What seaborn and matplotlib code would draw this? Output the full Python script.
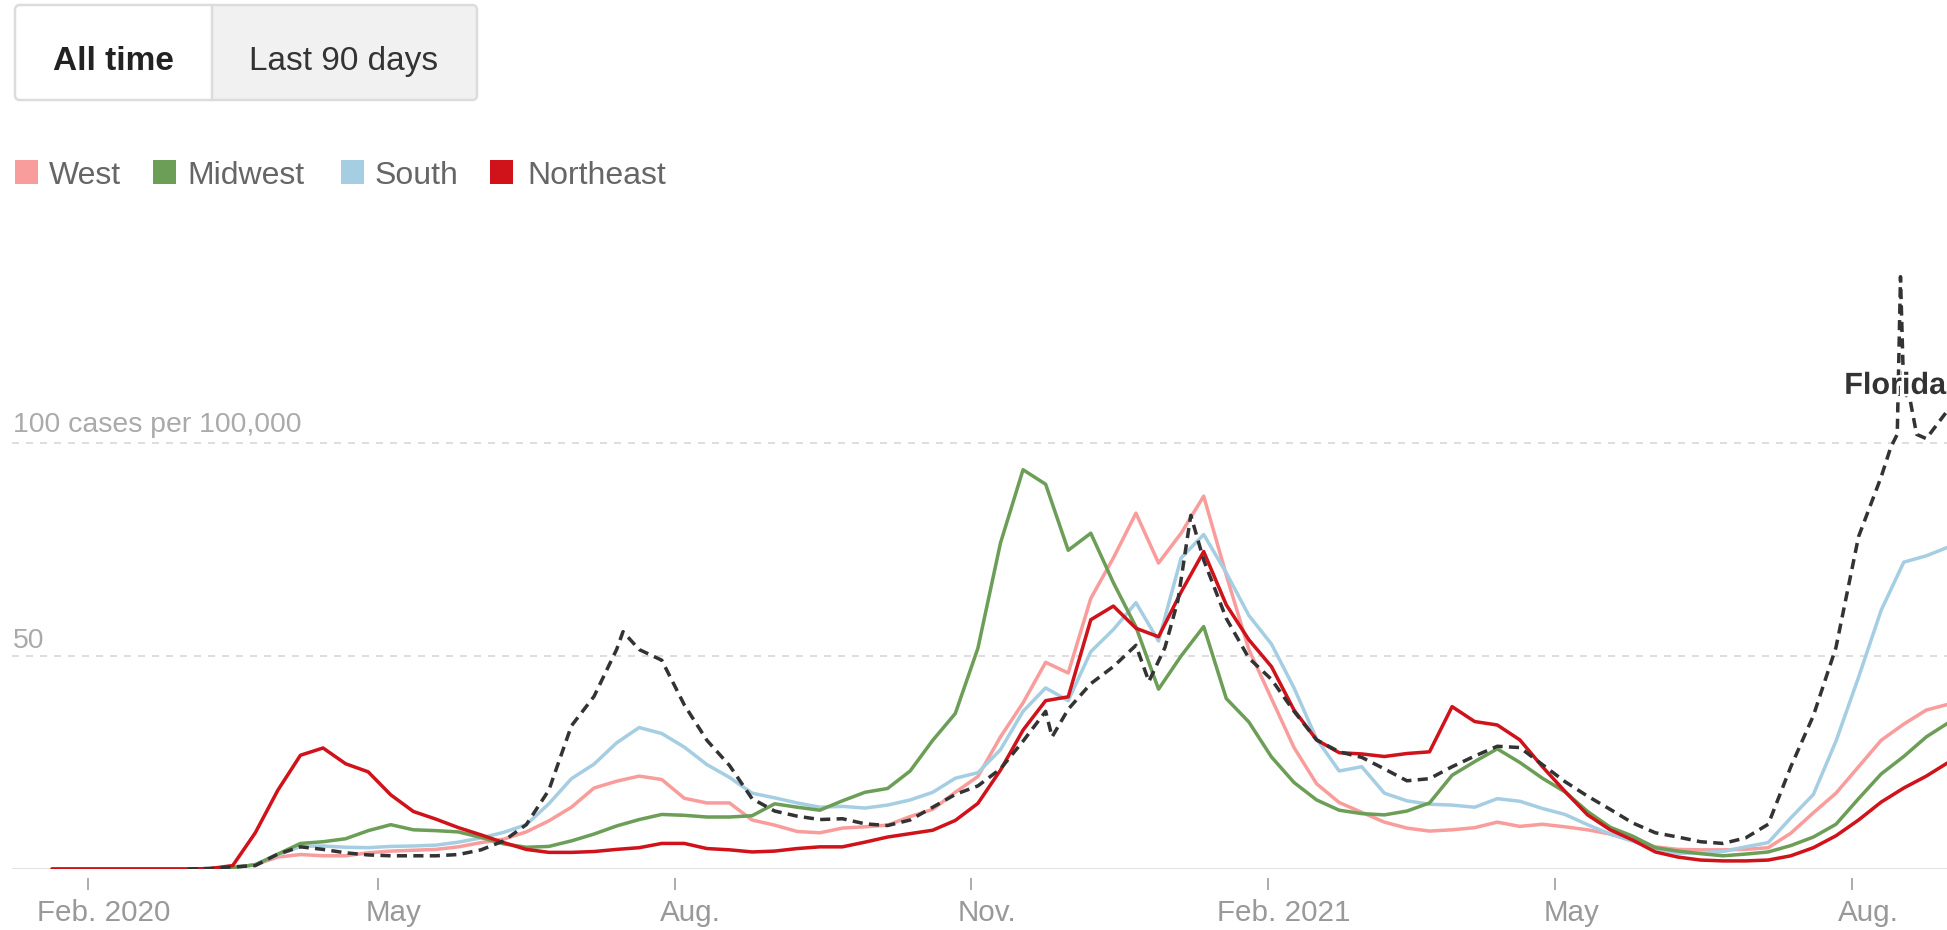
import matplotlib
matplotlib.use("Agg")
import numpy as np
import pandas as pd
import matplotlib.pyplot as plt
import matplotlib.dates as mdates
import matplotlib.patheffects as pe
from matplotlib.patches import Rectangle, FancyBboxPatch
from matplotlib.transforms import blended_transform_factory
import seaborn as sns

sns.set_theme(style="white")
plt.rcParams["font.family"] = ["Liberation Sans", "DejaVu Sans"]

W, H, DPI = 1947, 930, 100
PX = 72 / DPI  # points per pixel

# Weekly samples (Tuesdays) of the 7-day average of new cases per 100,000
week_dates = pd.date_range("2020-01-21", "2021-08-31", freq="7D")

west = [
    0, 0, 0, 0, 0, 0, 0, 0, 0.3, 1.0,
    2.8, 3.4, 3.1, 3.1, 3.8, 4.2, 4.4, 4.6, 5.2, 6.2,
    7.0, 8.7, 11.3, 14.5, 19.0, 20.6, 21.8, 21.0, 16.6, 15.5,
    15.5, 11.5, 10.3, 8.8, 8.5, 9.6, 9.9, 10.3, 12.3, 14.0,
    18.0, 21.7, 31.0, 39.0, 48.5, 46.0, 63.5, 73.0, 83.5, 71.8,
    78.8, 87.5, 69.0, 51.5, 40.0, 28.5, 20.0, 15.6, 13.3, 11.0,
    9.6, 8.9, 9.2, 9.7, 11.0, 10.0, 10.5, 9.9, 9.2, 8.2,
    6.8, 5.2, 4.6, 4.5, 4.5, 4.6, 5.0, 8.4, 13.2, 17.8,
    24.0, 30.2, 34.0, 37.3, 38.7,
]
midwest = [
    0, 0, 0, 0, 0, 0, 0, 0.1, 0.3, 1.0,
    3.5, 6.0, 6.4, 7.1, 9.0, 10.4, 9.2, 9.0, 8.7, 7.4,
    5.9, 5.1, 5.3, 6.6, 8.2, 10.1, 11.6, 12.8, 12.6, 12.2,
    12.2, 12.5, 15.3, 14.5, 13.8, 16.0, 18.0, 18.9, 23.0, 30.2,
    36.5, 51.8, 76.5, 93.7, 90.3, 74.8, 78.8, 67.2, 56.8, 42.2,
    50.0, 56.9, 40.0, 34.5, 26.3, 20.3, 16.2, 13.8, 13.0, 12.7,
    13.6, 15.5, 22.0, 25.2, 28.2, 25.0, 21.3, 18.1, 13.5, 9.8,
    7.7, 5.0, 4.2, 3.6, 3.1, 3.5, 4.0, 5.5, 7.5, 10.5,
    16.5, 22.3, 26.4, 31.0, 34.4,
]
south = [
    0, 0, 0, 0, 0, 0, 0, 0.1, 0.3, 1.0,
    3.3, 5.3, 5.4, 5.1, 5.0, 5.3, 5.4, 5.6, 6.3, 7.3,
    8.6, 10.4, 15.3, 21.2, 24.6, 29.6, 33.2, 31.8, 28.6, 24.5,
    21.5, 17.8, 16.7, 15.5, 14.5, 14.7, 14.3, 15.0, 16.2, 18.0,
    21.3, 22.6, 28.0, 37.0, 42.5, 39.5, 51.0, 56.2, 62.5, 53.5,
    73.0, 78.5, 69.5, 59.5, 52.8, 42.5, 30.5, 23.0, 24.0, 17.8,
    16.0, 15.2, 15.0, 14.5, 16.5, 15.9, 14.2, 12.8, 10.4, 8.2,
    6.5, 4.8, 3.7, 3.8, 4.1, 5.2, 6.2, 12.0, 17.5, 30.0,
    45.0, 60.7, 72.0, 73.5, 75.6,
]
northeast = [
    0, 0, 0, 0, 0, 0, 0, 0.1, 0.8, 8.5,
    18.5, 26.7, 28.4, 24.7, 22.8, 17.4, 13.5, 11.7, 9.7, 8.0,
    6.2, 4.6, 3.9, 3.9, 4.1, 4.6, 5.0, 6.0, 6.0, 4.8,
    4.5, 4.0, 4.2, 4.8, 5.2, 5.2, 6.3, 7.5, 8.3, 9.1,
    11.4, 15.4, 23.2, 32.6, 39.5, 40.4, 58.5, 61.7, 56.5, 54.5,
    65.0, 74.5, 62.0, 53.8, 47.5, 37.3, 30.3, 27.3, 27.0, 26.4,
    27.1, 27.5, 38.1, 34.6, 33.8, 30.3, 24.0, 18.2, 12.7, 9.2,
    6.8, 4.0, 2.8, 2.1, 1.9, 1.9, 2.1, 3.1, 5.0, 7.8,
    11.5, 15.7, 19.0, 21.8, 25.1,
]

florida_dates = [
    "2020-03-03", "2020-03-10", "2020-03-17", "2020-03-24", "2020-03-31",
    "2020-04-07", "2020-04-14", "2020-04-21", "2020-04-28", "2020-05-05",
    "2020-05-12", "2020-05-19", "2020-05-26", "2020-06-02", "2020-06-09",
    "2020-06-16", "2020-06-23", "2020-06-30", "2020-07-07", "2020-07-14",
    "2020-07-16", "2020-07-21", "2020-07-28", "2020-08-04", "2020-08-11",
    "2020-08-18", "2020-08-25", "2020-09-01", "2020-09-08", "2020-09-15",
    "2020-09-22", "2020-09-29", "2020-10-06", "2020-10-13", "2020-10-20",
    "2020-10-27", "2020-11-03", "2020-11-10", "2020-11-17", "2020-11-24",
    "2020-11-26", "2020-12-01", "2020-12-08", "2020-12-15", "2020-12-22",
    "2020-12-26", "2020-12-31", "2021-01-04", "2021-01-08", "2021-01-12",
    "2021-01-19", "2021-01-26", "2021-02-02", "2021-02-09", "2021-02-16",
    "2021-02-23", "2021-03-02", "2021-03-09", "2021-03-16", "2021-03-23",
    "2021-03-30", "2021-04-06", "2021-04-13", "2021-04-20", "2021-04-27",
    "2021-05-04", "2021-05-11", "2021-05-18", "2021-05-25", "2021-06-01",
    "2021-06-08", "2021-06-15", "2021-06-22", "2021-06-29", "2021-07-06",
    "2021-07-13", "2021-07-20", "2021-07-27", "2021-08-03", "2021-08-10",
    "2021-08-13", "2021-08-15", "2021-08-16", "2021-08-17", "2021-08-19",
    "2021-08-21", "2021-08-24", "2021-08-27", "2021-08-30",
]
florida = [
    0.0, 0.1, 0.5, 0.8, 3.5,
    5.2, 4.6, 3.8, 3.3, 3.1,
    3.1, 3.1, 3.4, 4.5, 6.6,
    10.4, 18.5, 33.6, 40.5, 51.5,
    55.7, 51.5, 49.0, 38.5, 30.2,
    24.3, 16.5, 13.6, 12.4, 11.6,
    11.8, 10.6, 10.2, 11.5, 14.5,
    17.5, 19.5, 23.5, 30.0, 37.0,
    31.0, 37.5, 43.5, 47.5, 52.5,
    44.0, 52.0, 63.0, 83.0, 72.5,
    58.8, 49.5, 44.5, 37.0, 30.3,
    27.5, 26.2, 23.5, 20.7, 21.2,
    24.0, 26.5, 28.8, 28.5, 24.5,
    20.5, 17.1, 14.0, 10.8, 8.5,
    7.5, 6.4, 6.0, 7.3, 10.5,
    24.0, 36.0, 52.0, 78.0, 92.0,
    99.0, 102.0, 139.0, 112.0, 110.0,
    102.0, 101.0, 104.0, 107.0,
]

regions = ["West", "Midwest", "South", "Northeast"]
region_colors = ["#f99d9c", "#6c9e57", "#a6cee3", "#d0121b"]
draw_order = ["West", "South", "Midwest", "Northeast"]
florida_color = "#333333"

tick_dates = ["2020-02-01", "2020-05-01", "2020-08-01", "2020-11-01",
              "2021-02-01", "2021-05-01", "2021-08-01"]
tick_labels = ["Feb. 2020", "May", "Aug.", "Nov.", "Feb. 2021", "May", "Aug."]

grid_values = [50, 100]
grid_labels = ["50", "100 cases per 100,000"]
grid_label_gap = [8, 11]  # pixels between label baseline and its gridline

long = pd.DataFrame({
    "date": np.tile(week_dates.values, len(regions)),
    "rate": np.concatenate([west, midwest, south, northeast]),
    "region": np.repeat(regions, len(week_dates)),
})
fl = pd.DataFrame({"date": pd.to_datetime(florida_dates), "rate": florida})

fig = plt.figure(figsize=(W / DPI, H / DPI), dpi=DPI)
fig.patch.set_facecolor("white")

# plot area: value 0 sits at y=869 px, value 100 at y=443 px
ax = fig.add_axes([12 / W, 61 / H, 1935 / W, 669 / H])
ax.set_facecolor("white")

ax.axhline(0, color="#e2e2e2", lw=3 * PX, zorder=0.5)
for v in grid_values:
    ax.axhline(v, color="#dedede", lw=2 * PX, linestyle=(0, (3.5, 3.5)), zorder=0.5)

LW = 3.5 * PX
sns.lineplot(data=long, x="date", y="rate", hue="region", hue_order=draw_order,
             palette=dict(zip(regions, region_colors)), estimator=None,
             linewidth=LW, legend=False, ax=ax)
sns.lineplot(data=fl, x="date", y="rate", color=florida_color, estimator=None,
             linewidth=LW, legend=False, ax=ax)
ax.lines[-1].set_linestyle((0, (2.9, 1.8)))
ax.lines[-1].set_zorder(3)

ax.set_xlim(pd.Timestamp("2020-01-08 14:00"), pd.Timestamp("2021-08-30 10:00"))
ax.set_ylim(0, 157)
ax.set_xticks([])
ax.set_yticks([])
ax.set_xlabel("")
ax.set_ylabel("")
sns.despine(ax=ax, left=True, bottom=True, top=True, right=True)

# gridline labels
ytrans = blended_transform_factory(ax.transAxes, ax.transData)
for v, lab, gap in zip(grid_values, grid_labels, grid_label_gap):
    ax.annotate(lab, xy=(0, v), xycoords=ytrans, xytext=(1 * PX, gap * PX),
                textcoords="offset points", ha="left", va="baseline",
                fontsize=20.4, color="#aaaaaa", annotation_clip=False)

# month ticks and labels
xtrans = blended_transform_factory(ax.transData, ax.transAxes)
tick_nums = mdates.date2num(pd.to_datetime(tick_dates))
ax.vlines(tick_nums, -9 / 669, -21 / 669, transform=xtrans, colors="#9a9a9a",
          lw=1.6 * PX, clip_on=False)
for t, lab in zip(tick_nums, tick_labels):
    ax.annotate(lab, xy=(t, 0), xycoords=xtrans, xytext=(16 * PX, -52 * PX),
                textcoords="offset points", ha="center", va="baseline",
                fontsize=21.3, color="#999999", annotation_clip=False)

# series label at the right edge
ax.annotate("Florida", xy=(1, 111.5), xycoords=ytrans, xytext=(-1 * PX, 0),
            textcoords="offset points", ha="right", va="baseline",
            fontsize=22, fontweight="bold", color=florida_color, zorder=6,
            path_effects=[pe.withStroke(linewidth=5 * PX, foreground="white")])

# header: view toggle and legend, laid out in pixel coordinates
ov = fig.add_axes([0, 0, 1, 1], zorder=5)
ov.set_xlim(0, W)
ov.set_ylim(H, 0)
ov.axis("off")
ov.patch.set_alpha(0)

ov.add_patch(FancyBboxPatch((212, 5), 265, 95, boxstyle="round,pad=0,rounding_size=5",
                            fc="#f1f1f1", ec="none"))
ov.add_patch(Rectangle((212, 5), 20, 95, fc="#f1f1f1", ec="none"))
ov.add_patch(FancyBboxPatch((15, 5), 462, 95, boxstyle="round,pad=0,rounding_size=5",
                            fc="none", ec="#dcdcdc", lw=2.5 * PX))
ov.plot([212, 212], [5, 100], color="#dcdcdc", lw=2.5 * PX)
ov.text(113, 70, "All time", ha="center", va="baseline", fontsize=24,
        fontweight="bold", color="#222222")
ov.text(344, 70, "Last 90 days", ha="center", va="baseline", fontsize=24,
        color="#333333")

square_x = [15, 153, 341, 490]
label_x = [49, 187, 375, 527]
for name, color, sx, tx in zip(regions, region_colors, square_x, label_x):
    ov.add_patch(Rectangle((sx, 160), 23, 24, fc=color, ec="none"))
    ov.text(tx, 184, name, ha="left", va="baseline", fontsize=23, color="#666666")

fig.savefig("out.png", dpi=DPI, facecolor="white")
